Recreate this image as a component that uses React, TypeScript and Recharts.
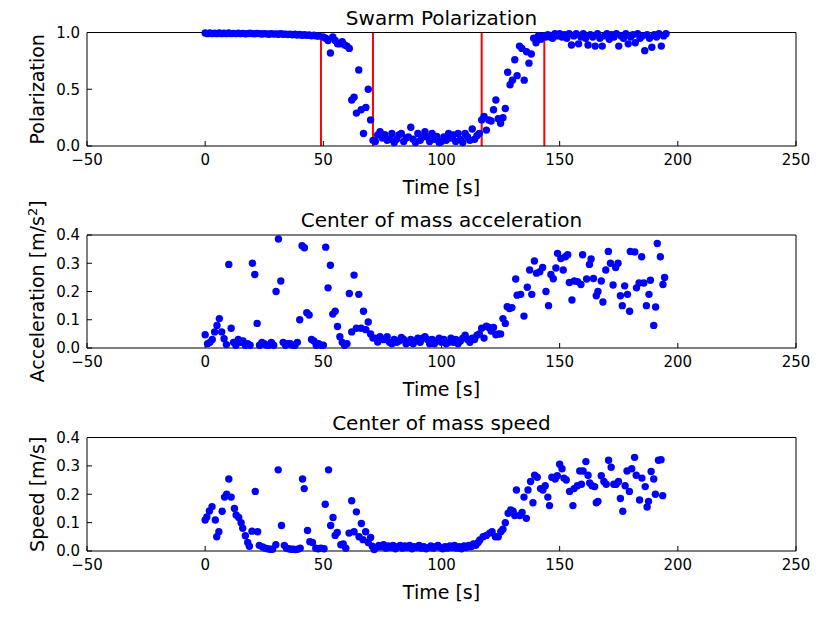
import React from 'react'
import { ScatterChart, Scatter, XAxis, YAxis, ReferenceLine } from 'recharts'

// time [s], value pairs
const POLARIZATION: [number, number][] = [
  [0, 0.995], [1, 0.99], [2, 0.995], [3, 0.99], [4, 0.993], [5, 0.99], [6, 0.995], [7, 0.99],
  [8, 0.993], [9, 0.99], [10, 0.995], [11, 0.99], [12, 0.992], [13, 0.99], [14, 0.994], [15, 0.99],
  [16, 0.992], [17, 0.988], [18, 0.99], [19, 0.993], [20, 0.99], [21, 0.988], [22, 0.992], [23, 0.99],
  [24, 0.987], [25, 0.99], [26, 0.988], [27, 0.985], [28, 0.99], [29, 0.986], [30, 0.988], [31, 0.985],
  [32, 0.99], [33, 0.984], [34, 0.986], [35, 0.982], [36, 0.985], [37, 0.98], [38, 0.984], [39, 0.978],
  [40, 0.982], [41, 0.976], [42, 0.98], [43, 0.975], [44, 0.978], [45, 0.972], [46, 0.976], [47, 0.97],
  [48, 0.968], [50, 0.96], [51, 0.95], [52, 0.93], [53, 0.82], [54, 0.96], [55, 0.93], [56, 0.9],
  [57, 0.9], [58, 0.92], [59, 0.89], [60, 0.88], [61, 0.86], [62, 0.405], [63, 0.43], [64, 0.29],
  [65, 0.67], [66, 0.32], [67, 0.11], [68, 0.34], [69, 0.5], [70, 0.23], [71, 0.05], [72, 0.04],
  [73, 0.097], [74, 0.126], [75, 0.07], [76, 0.1], [77, 0.05], [78, 0.06], [79, 0.11], [80, 0.03],
  [81, 0.06], [82, 0.097], [83, 0.11], [84, 0.04], [85, 0.07], [86, 0.08], [87, 0.165], [88, 0.06],
  [89, 0.03], [90, 0.11], [91, 0.05], [92, 0.08], [93, 0.126], [94, 0.08], [95, 0.04], [96, 0.11],
  [97, 0.06], [98, 0.085], [99, 0.03], [100, 0.04], [101, 0.08], [102, 0.05], [103, 0.11], [104, 0.07],
  [105, 0.097], [106, 0.04], [107, 0.11], [108, 0.06], [109, 0.03], [110, 0.11], [111, 0.08], [112, 0.05],
  [113, 0.15], [114, 0.06], [115, 0.09], [116, 0.11], [117, 0.23], [118, 0.26], [119, 0.14], [120, 0.23],
  [121, 0.22], [122, 0.32], [123, 0.405], [124, 0.24], [125, 0.2], [126, 0.25], [127, 0.33], [128, 0.65],
  [129, 0.54], [130, 0.58], [131, 0.76], [132, 0.62], [133, 0.88], [134, 0.86], [135, 0.58], [136, 0.83],
  [137, 0.73], [138, 0.81], [139, 0.95], [140, 0.91], [141, 0.97], [142, 0.94], [143, 0.97], [144, 0.96],
  [145, 0.98], [146, 0.96], [147, 0.95], [148, 0.99], [149, 0.97], [150, 0.99], [151, 0.96], [152, 0.98],
  [153, 0.95], [154, 0.99], [155, 0.89], [156, 0.97], [157, 0.99], [158, 0.9], [159, 0.96], [160, 0.99],
  [161, 0.95], [162, 0.89], [163, 0.98], [164, 0.96], [165, 0.88], [166, 0.99], [167, 0.95], [168, 0.88],
  [169, 0.97], [170, 0.99], [171, 0.94], [172, 0.98], [173, 0.96], [174, 0.99], [175, 0.88], [176, 0.97],
  [177, 0.95], [178, 0.99], [179, 0.9], [180, 0.96], [181, 0.98], [182, 0.91], [183, 0.99], [184, 0.95],
  [185, 0.97], [186, 0.84], [187, 0.98], [188, 0.95], [189, 0.87], [190, 0.98], [191, 0.96], [192, 0.99],
  [193, 0.88], [194, 0.97], [195, 0.99],
]

const ACCELERATION: [number, number][] = [
  [0, 0.047], [1, 0.015], [2, 0.02], [3, 0.03], [4, 0.057], [5, 0.08], [6, 0.104], [7, 0.057],
  [8, 0.033], [9, 0.012], [10, 0.296], [11, 0.07], [12, 0.02], [13, 0.01], [14, 0.03], [15, 0.02],
  [16, 0.025], [17, 0.01], [18, 0.015], [19, 0.01], [20, 0.3], [21, 0.26], [22, 0.087], [23, 0.01],
  [24, 0.02], [25, 0.015], [26, 0.01], [27, 0.01], [28, 0.02], [29, 0.01], [30, 0.2], [31, 0.386],
  [32, 0.237], [33, 0.02], [34, 0.01], [35, 0.015], [36, 0.015], [37, 0.01], [38, 0.01], [39, 0.02],
  [40, 0.1], [41, 0.362], [42, 0.355], [43, 0.125], [44, 0.117], [45, 0.03], [46, 0.025], [47, 0.01],
  [48, 0.015], [49, 0.01], [50, 0.01], [51, 0.357], [52, 0.213], [53, 0.293], [54, 0.12], [55, 0.13],
  [56, 0.076], [57, 0.04], [58, 0.02], [59, 0.01], [60, 0.015], [61, 0.193], [62, 0.057], [63, 0.258],
  [64, 0.07], [65, 0.19], [66, 0.07], [67, 0.13], [68, 0.065], [69, 0.092], [70, 0.05], [71, 0.035],
  [72, 0.035], [73, 0.021], [74, 0.04], [75, 0.03], [76, 0.03], [77, 0.04], [78, 0.02], [79, 0.015],
  [80, 0.03], [81, 0.02], [82, 0.025], [83, 0.037], [84, 0.03], [85, 0.015], [86, 0.02], [87, 0.03],
  [88, 0.015], [89, 0.025], [90, 0.035], [91, 0.02], [92, 0.035], [93, 0.04], [94, 0.03], [95, 0.015],
  [96, 0.03], [97, 0.015], [98, 0.025], [99, 0.035], [100, 0.02], [101, 0.03], [102, 0.015], [103, 0.02],
  [104, 0.035], [105, 0.02], [106, 0.03], [107, 0.015], [108, 0.025], [109, 0.035], [110, 0.045], [111, 0.03],
  [112, 0.02], [113, 0.035], [114, 0.03], [115, 0.045], [116, 0.05], [117, 0.07], [118, 0.035], [119, 0.077],
  [120, 0.073], [121, 0.06], [122, 0.073], [123, 0.047], [124, 0.05], [125, 0.05], [126, 0.104], [127, 0.087],
  [127.8, 0.146], [128.8, 0.14], [129.8, 0.143], [131.4, 0.244], [132, 0.187], [133.5, 0.19], [134.9, 0.113],
  [136.3, 0.215], [137.3, 0.276], [138.2, 0.19], [139.3, 0.308], [140.2, 0.265], [141.6, 0.27], [142.8, 0.285],
  [144.2, 0.2], [145.3, 0.15], [146.3, 0.26], [147.3, 0.245], [148.4, 0.283], [149.1, 0.335], [150.5, 0.317],
  [151.5, 0.276], [152.4, 0.323], [153.4, 0.33], [154.1, 0.232], [155.2, 0.17], [156.2, 0.237], [157.6, 0.235],
  [159, 0.225], [159.7, 0.33], [161.4, 0.244], [162.6, 0.296], [163.3, 0.315], [164.3, 0.246], [165.5, 0.185],
  [166.2, 0.2], [167.6, 0.237], [168.3, 0.163], [169.5, 0.276], [170.6, 0.342], [171.5, 0.3], [172.6, 0.223],
  [173.7, 0.285], [174.7, 0.3], [175.7, 0.185], [176.5, 0.15], [177.5, 0.22], [178.7, 0.19], [179.6, 0.13],
  [179.9, 0.342], [181.8, 0.34], [182.5, 0.213], [183.6, 0.23], [184.7, 0.323], [185.6, 0.23], [186.7, 0.15],
  [187.8, 0.19], [188.4, 0.24], [189.8, 0.08], [190.6, 0.145], [191.3, 0.37], [192.6, 0.323], [193.7, 0.225],
  [194.4, 0.25],
]

const SPEED: [number, number][] = [
  [0, 0.109], [0.7, 0.12], [1.8, 0.141], [2.9, 0.156], [4.3, 0.109], [4.9, 0.05], [5.8, 0.068], [7.2, 0.14],
  [8.2, 0.19], [9.1, 0.2], [10, 0.254], [11, 0.19], [12.4, 0.15], [13.1, 0.127], [14.2, 0.118], [15.2, 0.1],
  [15.9, 0.08], [17, 0.054], [18, 0.03], [18.7, 0.017], [19.8, 0.07], [21.2, 0.21], [22.2, 0.068], [22.9, 0.02],
  [24.3, 0.014], [25.4, 0.01], [26.4, 0.008], [27.5, 0.006], [28.5, 0.006], [29.9, 0.022], [30.9, 0.286], [32.3, 0.09],
  [33.5, 0.02], [34.4, 0.01], [35.3, 0.008], [36.3, 0.006], [37.3, 0.006], [38.2, 0.005], [39.1, 0.006], [40.2, 0.01],
  [41.2, 0.254], [41.9, 0.22], [43.3, 0.072], [44.3, 0.033], [45.4, 0.03], [46.8, 0.01], [47.8, 0.008], [48.9, 0.01],
  [50.3, 0.008], [50.8, 0.165], [52.2, 0.286], [53.1, 0.09], [54.1, 0.118], [55, 0.055], [55.9, 0.065], [57.4, 0.022],
  [58.4, 0.025], [59.5, 0.01], [60.9, 0.063], [62, 0.177], [63, 0.068], [64, 0.138], [65.1, 0.05], [66.1, 0.097],
  [66.8, 0.04], [67.9, 0.068], [69, 0.03], [70, 0.048], [70.7, 0.017], [71.5, 0.005], [72.5, 0.012], [73.5, 0.02],
  [74.5, 0.015], [75.5, 0.022], [76.5, 0.01], [77.5, 0.018], [78.5, 0.012], [79.5, 0.02], [80.5, 0.008], [81.5, 0.015],
  [82.5, 0.02], [83.5, 0.01], [84.5, 0.018], [85.5, 0.012], [86.5, 0.02], [87.5, 0.008], [88.5, 0.015], [89.5, 0.012],
  [90.5, 0.02], [91.5, 0.01], [92.5, 0.015], [93.5, 0.008], [94.5, 0.012], [95.5, 0.018], [96.5, 0.01], [97.5, 0.015],
  [98.5, 0.02], [99.5, 0.012], [100.5, 0.008], [101.5, 0.015], [102.5, 0.01], [103.5, 0.018], [104.5, 0.012],
  [105.5, 0.02], [106.5, 0.01], [107.5, 0.015], [108.5, 0.008], [109.5, 0.018], [110.5, 0.012], [111.5, 0.02],
  [112.5, 0.015], [113.5, 0.025], [114.5, 0.02], [115.5, 0.03], [116.2, 0.039], [117.6, 0.05], [119, 0.055],
  [120.4, 0.063], [121.4, 0.068], [122.8, 0.05], [124, 0.05], [125.1, 0.068], [126, 0.077], [127, 0.1],
  [128.2, 0.133], [129.3, 0.145], [130.3, 0.14], [131, 0.125], [131.7, 0.215], [133.1, 0.125], [134.1, 0.136],
  [134.9, 0.19], [135.9, 0.115], [136.6, 0.215], [137.7, 0.245], [138.7, 0.17], [139.4, 0.267], [140.5, 0.26],
  [141.9, 0.22], [142.9, 0.215], [143.9, 0.23], [145, 0.19], [145.7, 0.16], [146.7, 0.26], [148.1, 0.254],
  [149, 0.265], [150, 0.306], [151, 0.29], [151.8, 0.257], [152.8, 0.25], [154.2, 0.21], [155.6, 0.16],
  [156.1, 0.22], [157.5, 0.23], [158.5, 0.282], [159.2, 0.235], [159.9, 0.282], [161.1, 0.315], [162, 0.267],
  [162.7, 0.24], [163.7, 0.23], [164.8, 0.227], [165.5, 0.17], [166.2, 0.175], [167.6, 0.265], [168.7, 0.245],
  [169.7, 0.235], [170.7, 0.32], [171.8, 0.295], [172.9, 0.235], [173.9, 0.235], [174.9, 0.245], [175.7, 0.185],
  [176.7, 0.14], [177.7, 0.23], [178.5, 0.282], [179.5, 0.21], [180.5, 0.29], [181.7, 0.33], [182.4, 0.267],
  [183.8, 0.18], [184.8, 0.257], [186.2, 0.227], [187, 0.155], [187.6, 0.175], [188.7, 0.28], [189.8, 0.254],
  [190.5, 0.2], [191.8, 0.32], [192.9, 0.322], [193.6, 0.195],
]

// red markers in the polarization panel
const TRANSITIONS = [49, 71, 117, 143.5]

const TIME_TICKS = [-50, 0, 50, 100, 150, 200, 250]
const POL_TICKS = [0, 0.5, 1]
const ACC_TICKS = [0, 0.1, 0.2, 0.3, 0.4]
const SPEED_TICKS = [0, 0.1, 0.2, 0.3, 0.4]

const FONT = '"DejaVu Sans", sans-serif'
const tickStyle = { fontSize: 15, fill: '#000', fontFamily: FONT }

const toPoints = (rows: [number, number][]) => rows.map(([t, v]) => ({ t, v }))

const fmtTime = (v: number) => (v < 0 ? `\u2212${Math.abs(v)}` : String(v))

function Dot(props: any) {
  const { cx, cy } = props
  if (cx == null || cy == null) return null
  return <circle cx={cx} cy={cy} r={3.7} fill="#0000ff" />
}

interface PanelProps {
  top: number
  height: number
  mTop: number
  mBottom: number
  rows: [number, number][]
  yMax: number
  yTicks: number[]
  lines?: number[]
}

function Panel({ top, height, mTop, mBottom, rows, yMax, yTicks, lines = [] }: PanelProps) {
  return (
    <div style={{ position: 'absolute', left: 0, top }}>
      <ScatterChart
        width={831}
        height={height}
        margin={{ top: mTop - 1, right: 34, bottom: mBottom, left: 47 }}
      >
        <XAxis
          type="number"
          dataKey="t"
          domain={[-50, 250]}
          ticks={TIME_TICKS}
          interval={0}
          tickFormatter={fmtTime}
          tickSize={-5}
          tickMargin={13}
          height={30}
          stroke="#000"
          tick={tickStyle}
        />
        <XAxis
          xAxisId="top"
          orientation="top"
          type="number"
          domain={[-50, 250]}
          ticks={TIME_TICKS}
          interval={0}
          tick={false}
          tickSize={-5}
          height={1}
          stroke="#000"
        />
        <YAxis
          type="number"
          dataKey="v"
          domain={[0, yMax]}
          ticks={yTicks}
          interval={0}
          tickFormatter={(v: number) => v.toFixed(1)}
          tickSize={-5}
          tickMargin={12}
          width={40}
          stroke="#000"
          tick={tickStyle}
        />
        <YAxis
          yAxisId="right"
          orientation="right"
          type="number"
          domain={[0, yMax]}
          ticks={yTicks}
          interval={0}
          tick={false}
          tickSize={-5}
          width={1}
          stroke="#000"
        />
        <Scatter data={toPoints(rows)} shape={Dot} isAnimationActive={false} />
        {lines.map(x => (
          <ReferenceLine key={x} x={x} stroke="#ff0000" strokeWidth={2} />
        ))}
      </ScatterChart>
    </div>
  )
}

export default function App() {
  const titles = [
    { text: 'Swarm Polarization', y: 24.5 },
    { text: 'Center of mass acceleration', y: 227 },
    { text: 'Center of mass speed', y: 429.5 },
  ]
  const timeLabels = [193.5, 395.5, 598.5]
  return (
    <div
      style={{
        position: 'absolute',
        left: 0,
        top: 0,
        width: 831,
        height: 621,
        background: '#fff',
        fontFamily: FONT,
      }}
    >
      <Panel top={0} height={200} mTop={32.5} mBottom={24} rows={POLARIZATION} yMax={1} yTicks={POL_TICKS} lines={TRANSITIONS} />
      <Panel top={200} height={200} mTop={35} mBottom={22} rows={ACCELERATION} yMax={0.4} yTicks={ACC_TICKS} />
      <Panel top={400} height={221} mTop={37.5} mBottom={40} rows={SPEED} yMax={0.4} yTicks={SPEED_TICKS} />
      <svg
        width={831}
        height={621}
        style={{ position: 'absolute', left: 0, top: 0, pointerEvents: 'none' }}
        fontFamily={FONT}
      >
        {titles.map(t => (
          <text key={t.text} x={441.5} y={t.y} fontSize={20} textAnchor="middle" fill="#000">
            {t.text}
          </text>
        ))}
        {timeLabels.map(y => (
          <text key={y} x={441.5} y={y} fontSize={19} textAnchor="middle" fill="#000">
            Time [s]
          </text>
        ))}
        <text x={44} y={89.3} fontSize={19} textAnchor="middle" fill="#000" transform="rotate(-90 44 89.3)">
          Polarization
        </text>
        <text x={44} y={291.4} fontSize={19} textAnchor="middle" fill="#000" transform="rotate(-90 44 291.4)">
          Acceleration [m/s<tspan dy={-7} fontSize={13}>2</tspan><tspan dy={7}>]</tspan>
        </text>
        <text x={44} y={494.3} fontSize={19} textAnchor="middle" fill="#000" transform="rotate(-90 44 494.3)">
          Speed [m/s]
        </text>
      </svg>
    </div>
  )
}
